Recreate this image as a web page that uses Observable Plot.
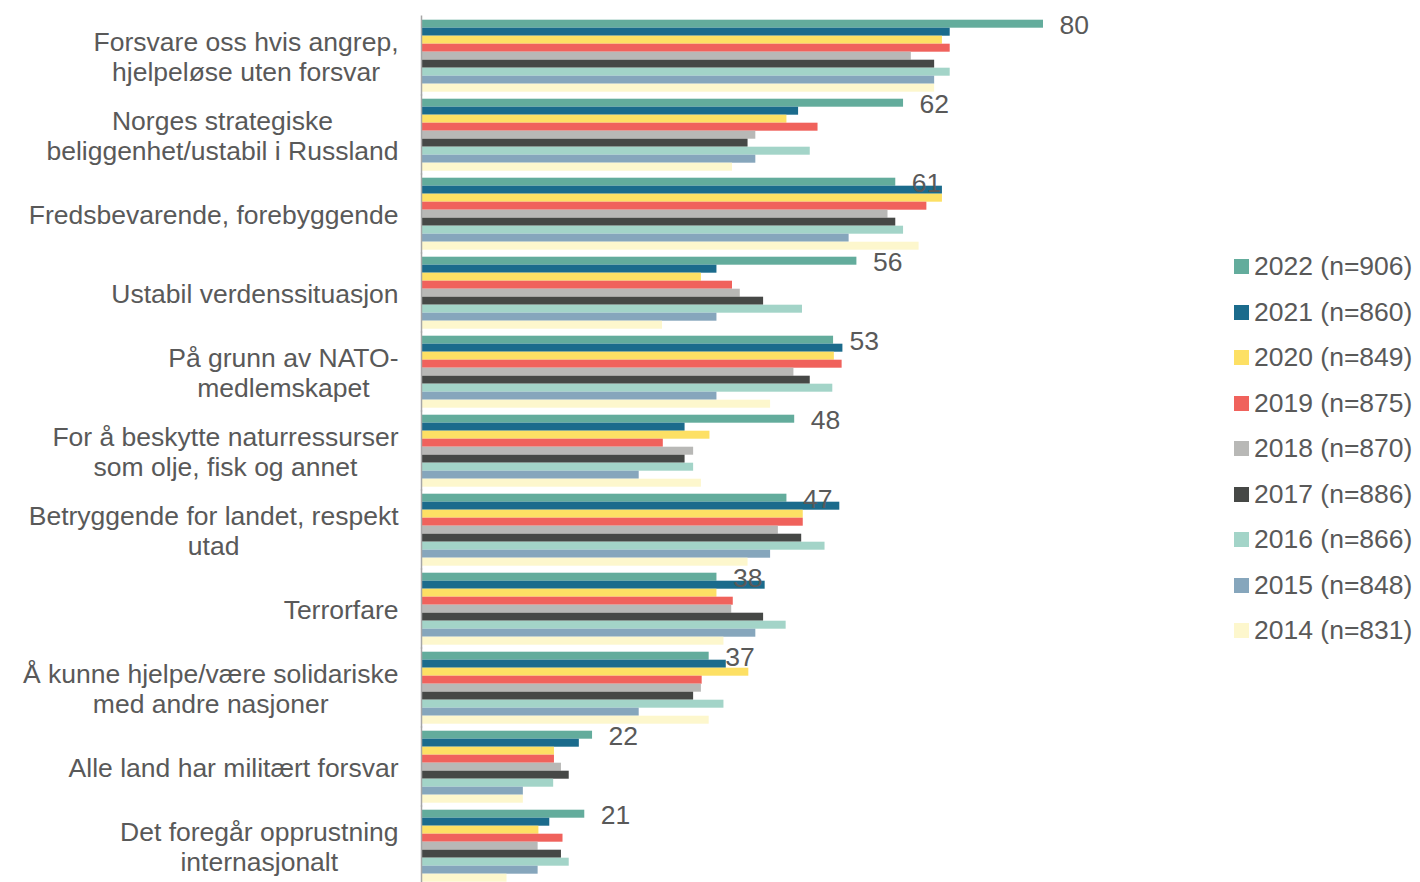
<!DOCTYPE html>
<html>
<head>
<meta charset="utf-8">
<script src="https://cdn.jsdelivr.net/npm/d3@7"></script>
<script src="https://cdn.jsdelivr.net/npm/@observablehq/plot@0.6"></script>
<style>
  html, body { margin: 0; padding: 0; background: #fff; overflow: hidden; }
  #wrap { position: relative; width: 1420px; height: 882px; overflow: hidden; }
  #legend { position: absolute; left: 1234px; top: 244px; font-family: 'Liberation Sans', Arial, sans-serif; font-size: 26.5px; color: #595959; }
  .item { height: 45.5px; display: flex; align-items: center; white-space: nowrap; }
  .sw { width: 15px; height: 15px; margin-right: 5px; flex: none; }
</style>
</head>
<body>
<div id="wrap"><div id="chart"></div><div id="legend"></div></div>
<script>
const categories = [
  "Forsvare oss hvis angrep,\nhjelpeløse uten forsvar",
  "Norges strategiske\nbeliggenhet/ustabil i Russland",
  "Fredsbevarende, forebyggende",
  "Ustabil verdenssituasjon",
  "På grunn av NATO-\nmedlemskapet",
  "For å beskytte naturressurser\nsom olje, fisk og annet",
  "Betryggende for landet, respekt\nutad",
  "Terrorfare",
  "Å kunne hjelpe/være solidariske\nmed andre nasjoner",
  "Alle land har militært forsvar",
  "Det foregår opprustning\ninternasjonalt"
];
const years = ["2022", "2021", "2020", "2019", "2018", "2017", "2016", "2015", "2014"];
const legendLabels = ["2022 (n=906)", "2021 (n=860)", "2020 (n=849)", "2019 (n=875)", "2018 (n=870)", "2017 (n=886)", "2016 (n=866)", "2015 (n=848)", "2014 (n=831)"];
const colors = ["#63ac9c", "#1b6b8c", "#fde064", "#f0625c", "#b8b8b6", "#464846", "#a3d4c8", "#86a6bc", "#fdf7cd"];

const v2022 = [80, 62, 61, 56, 53, 48, 47, 38, 37, 22, 21];
const v2021 = [68, 48.5, 67, 38, 54.2, 33.9, 53.8, 44.2, 39.2, 20.3, 16.5];
const v2020 = [67, 47, 67, 36, 53.1, 37.1, 49.1, 38, 42.1, 17.1, 15.1];
const v2019 = [68, 51, 65, 40, 54.1, 31.1, 49.1, 40.1, 36.1, 17.1, 18.2];
const v2018 = [63, 43, 60, 41, 47.9, 35, 45.9, 39.9, 36, 18, 15];
const v2017 = [66, 42, 61, 44, 50, 33.9, 48.9, 44, 35, 19, 18];
const v2016 = [68, 50, 62, 49, 52.9, 35, 51.9, 46.9, 38.9, 17, 19];
const v2015 = [66, 43, 55, 38, 38, 28, 44.9, 43, 28, 13.1, 15];
const v2014 = [66, 40, 64, 31, 44.9, 36, 42, 38.9, 37, 13.1, 11];

const series = [v2022, v2021, v2020, v2019, v2018, v2017, v2016, v2015, v2014];
const rows = [];
categories.forEach((c, i) => years.forEach((y, j) => rows.push({category: c, year: y, value: series[j][i]})));
const labelRows = categories.map((c, i) => ({category: c, year: "2022", value: v2022[i]}));

const fontFamily = "'Liberation Sans', Arial, sans-serif";
const fontSize = 26.5;
const textColor = "#595959";
const ctx = document.createElement("canvas").getContext("2d");
ctx.font = `${fontSize}px ${fontFamily}`;
const marginLeft = 421;
const labelRight = 398;

const catMarks = categories.map(c => {
  const w = Math.max(...c.split("\n").map(s => ctx.measureText(s).width));
  return Plot.text([c], {
    fy: d => d, frameAnchor: "left", text: d => d,
    dx: (labelRight - w / 2) - marginLeft,
    textAnchor: "middle", lineAnchor: "middle", lineHeight: 1.13,
    fontSize, fill: textColor
  });
});

const chart = Plot.plot({
  width: 1420, height: 883,
  marginLeft, marginRight: 377, marginTop: 19.3, marginBottom: 0.7,
  x: {domain: [0, 80], axis: null},
  y: {domain: years, axis: null, padding: 0},
  fy: {domain: categories, axis: null, padding: 0.076},
  color: {domain: years, range: colors},
  style: {fontFamily, background: "white"},
  marks: [
    Plot.barX(rows, {x: "value", y: "year", fy: "category", fill: "year"}),
    Plot.ruleX([0], {stroke: "#a6a6a6", strokeWidth: 1.5, insetTop: -3.5, insetBottom: -3.5}),
    Plot.text(labelRows, {x: "value", y: "year", fy: "category", text: d => String(d.value), dx: 16, dy: 1.5, textAnchor: "start", fontSize, fill: textColor}),
    ...catMarks
  ]
});
document.getElementById("chart").appendChild(chart);

const legend = document.getElementById("legend");
years.forEach((y, i) => {
  const item = document.createElement("div");
  item.className = "item";
  const sw = document.createElement("span");
  sw.className = "sw";
  sw.style.background = colors[i];
  const t = document.createElement("span");
  t.textContent = legendLabels[i];
  item.appendChild(sw); item.appendChild(t);
  legend.appendChild(item);
});
</script>
</body>
</html>
